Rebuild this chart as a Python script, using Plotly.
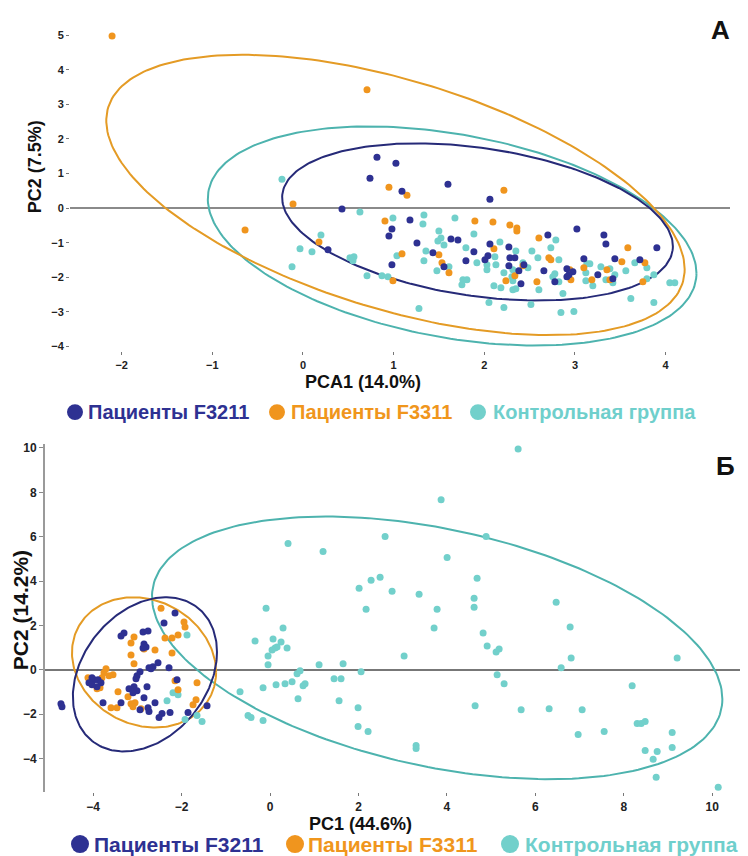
import numpy as np
import plotly.graph_objects as go

# The page places the figure 8px in from the top-left corner (default body margin),
# so the figure is 8px smaller than the window and positions are measured from that offset.
OFF = 8
W, H = 748 - OFF, 856 - OFF

# ---------------- Panel A data ----------------
a_f3211_x = [0.816,1.025,0.739,1.599,1.092,0.430,1.180,0.981,0.948,1.257,1.632,1.709,1.885,1.433,0.276,1.797,1.555,0.981,
             2.062,3.021,3.319,3.341,3.903,2.062,2.271,2.701,2.007,2.040,2.282,2.337,2.271,2.381,2.437,2.657,2.911,2.977,
             2.933,2.911,2.778,2.404,3.098,3.252,3.418,3.440,3.716]
a_f3211_y = [1.466,1.293,0.862,0.690,0.489,-0.029,-0.345,-0.603,-0.805,-1.006,-0.891,-0.920,-1.264,-1.293,-1.207,-1.523,-1.695,-1.638,
             0.259,-0.603,-0.776,-1.034,-1.149,-1.034,-1.121,-0.776,-1.494,-1.379,-1.437,-1.437,-1.667,-1.810,-1.638,-1.810,-1.753,-1.839,
             -1.925,-1.983,-2.126,-2.184,-1.466,-1.925,-2.040,-1.466,-1.494]

a_f3311_x = [-2.106,0.706,0.948,1.147,-0.110,-0.639,0.904,1.896,0.176,1.092,1.499,1.533,1.610,0.992,
             2.216,2.095,2.282,2.359,2.359,2.602,2.106,2.712,2.734,2.426,2.337,2.238,2.580,2.944,3.098,2.955,
             3.186,3.352,3.385,3.517,3.583,3.771,3.749]
a_f3311_y = [4.971,3.420,0.603,0.374,0.115,-0.632,-0.374,-0.374,-0.977,-1.322,-1.351,-1.580,-1.868,-2.098,
             0.517,-0.402,-0.489,-0.575,-0.661,-0.862,-1.178,-1.437,-1.494,-1.667,-1.954,-2.098,-2.126,-1.782,-1.724,-2.069,
             -2.069,-1.782,-2.069,-1.552,-1.149,-1.580,-2.126]

a_ctrl_x = [-0.232,0.628,0.992,1.334,1.323,1.676,1.499,1.522,1.488,1.555,1.885,1.797,0.198,-0.033,0.099,0.518,0.562,0.551,
            1.036,1.356,1.334,1.477,1.610,-0.121,0.706,0.871,0.937,1.764,1.808,1.753,1.279,1.918,
            2.172,2.348,2.525,2.789,2.734,2.117,2.029,2.029,2.128,2.315,2.216,2.304,2.315,2.426,2.481,2.591,2.822,
            2.778,2.756,2.822,3.131,3.164,3.286,3.385,3.120,3.120,3.197,3.341,3.418,3.440,3.561,3.660,3.793,3.870,
            3.793,2.106,2.183,2.315,2.348,2.602,2.867,2.051,2.216,2.514,2.845,2.988,3.616,3.870,4.046,4.101]
a_ctrl_y = [0.833,-0.115,-0.287,-0.201,-0.460,-0.287,-0.661,-0.862,-0.948,-1.063,-0.747,-1.149,-0.776,-1.178,-1.264,-1.437,-1.408,-1.523,
            -1.379,-1.236,-1.523,-1.810,-1.695,-1.695,-1.954,-1.954,-1.983,-2.069,-2.069,-2.213,-2.902,-1.580,
            -0.977,-1.236,-1.236,-0.920,-1.149,-1.408,-1.638,-1.782,-1.638,-1.782,-1.868,-1.983,-2.098,-1.580,-1.724,-1.437,-1.494,
            -1.897,-1.983,-2.126,-1.609,-1.609,-1.695,-1.753,-1.868,-2.098,-2.241,-2.069,-2.155,-1.925,-1.810,-1.580,-1.724,-1.925,
            -2.040,-2.241,-2.299,-2.356,-2.328,-2.356,-2.471,-2.730,-2.874,-2.787,-3.017,-2.989,-2.615,-2.730,-2.155,-2.155]

# ellipse parameters: centre x, centre y, half-width, half-height, correlation
a_ell_f3211 = [1.925, -0.40, 2.155, 2.27, -0.31]
a_ell_f3311 = [1.02, 0.38, 3.19, 4.05, -0.53]
a_ell_ctrl = [1.645, -0.805, 2.695, 3.165, -0.34]

a_xticks = [-2, -1, 0, 1, 2, 3, 4]
a_yticks = [-4, -3, -2, -1, 0, 1, 2, 3, 4, 5]

# ---------------- Panel Б data ----------------
b_f3211_x = [-2.149,-2.398,-3.303,-3.371,-2.873,-2.760,-2.851,-2.805,-2.873,-2.534,-2.647,-2.692,-2.738,-2.285,-2.941,-3.009,
             -3.032,-4.027,-3.982,-4.095,-3.891,-3.824,-3.914,-4.027,-2.104,-2.783,-3.190,-3.077,-3.009,-3.100,-2.851,-3.778,
             -3.371,-2.602,-4.729,-4.706,-2.760,-2.738,-2.941,-2.262,-2.443,-2.511,-1.855,-1.425]
b_f3211_y = [2.556,2.108,1.659,1.525,1.704,1.749,1.166,1.031,0.987,0.314,0.135,0.045,0.090,0.090,-0.090,-0.269,
             -0.404,-0.359,-0.448,-0.583,-0.448,-0.583,-0.762,-0.673,-0.448,-0.762,-0.852,-0.762,-0.942,-1.031,-1.256,-1.480,
             -1.480,-1.480,-1.525,-1.659,-1.704,-1.883,-1.794,-1.928,-1.973,-2.152,-1.928,-1.614]

b_f3311_x = [-2.466,-1.946,-1.923,-2.081,-2.217,-2.376,-3.077,-3.145,-2.851,-2.602,-3.145,-3.077,-2.217,-3.710,-3.552,-3.643,
             -2.149,-1.652,-2.081,-3.846,-3.914,-3.439,-3.213,-3.145,-3.054,-3.100,-3.597,-3.462,-2.919,-1.674,-1.742,-3.756,
             -4.118,-3.801]
b_f3311_y = [2.780,2.152,1.928,1.570,1.435,1.435,1.480,1.211,0.942,0.897,0.673,0.269,0.762,0.045,-0.224,-0.269,
             -0.493,-0.583,-0.897,-0.807,-0.852,-0.987,-1.211,-1.525,-1.480,-1.659,-1.704,-1.704,-1.749,-1.345,-1.570,-0.135,
             -0.359,-0.359]

b_ctrl_x = [-1.878,-2.195,-2.081,-2.330,-1.923,-1.652,-1.538,
            -0.090,0.294,-0.339,0.068,0.249,0.113,0.158,0.045,0.385,-0.045,-0.045,0.679,0.611,1.109,1.652,2.059,1.448,1.606,
            -0.158,0.136,0.339,0.498,0.747,0.792,-0.679,0.633,1.561,1.991,-0.498,-0.430,-0.158,1.991,2.217,3.303,3.303,
            2.014,2.285,2.489,2.760,2.172,3.371,3.778,3.710,3.032,4.683,4.615,4.615,4.638,5.611,3.869,2.602,4.887,4.005,
            6.471,6.787,4.819,0.407,1.199,4.910,5.113,5.181,6.810,6.584,9.208,5.136,5.294,8.190,5.679,6.312,7.059,8.303,
            8.394,8.484,7.557,6.968,9.095,8.484,8.756,9.095,8.665,8.733,10.136]
b_ctrl_y = [1.570,-1.031,-1.121,-1.390,-2.242,-2.063,-2.332,
            2.780,1.883,1.300,1.390,1.256,0.987,1.031,0.897,0.987,0.628,0.224,-0.045,-0.179,0.224,0.269,-0.090,-0.404,-0.404,
            -0.807,-0.673,-0.628,-0.538,-0.717,-0.628,-0.987,-1.300,-1.390,-1.704,-2.063,-2.152,-2.287,-2.556,-2.780,-3.408,-3.543,
            3.677,4.036,4.170,3.543,2.735,3.408,2.735,1.883,0.628,4.126,3.229,2.825,-1.614,9.955,7.668,6.009,6.009,5.067,
            3.049,1.928,1.659,5.695,5.336,1.076,0.807,0.942,0.538,0.090,0.538,-0.224,-0.628,-0.717,-1.794,-1.749,-1.794,-2.422,
            -2.422,-2.332,-2.780,-2.915,-2.825,-3.632,-3.677,-3.498,-4.036,-4.843,-5.291]

b_ell_f3211 = [-2.83, -0.205, 1.63, 3.475, 0.29]
b_ell_f3311 = [-2.85, 0.335, 1.63, 2.935, -0.15]
b_ell_ctrl = [3.78, 0.99, 6.45, 5.92, -0.39]

b_xticks = [-4, -2, 0, 2, 4, 6, 8, 10]
b_yticks = [-4, -2, 0, 2, 4, 6, 8, 10]

groups = ["Пациенты F3211", "Пациенты F3311", "Контрольная группа"]

# ---------------- styling ----------------
C_BLUE = "#2e3192"
C_ORANGE = "#f0951e"
C_CYAN = "#72d0cb"
L_BLUE = "#262a78"
L_ORANGE = "#e49b25"
L_CYAN = "#4db3ae"
FONT = "Liberation Sans"


def ellipse(p, n=240):
    cx, cy, sx, sy, r = p
    t = np.linspace(0, 2 * np.pi, n)
    x = cx + sx * np.cos(t)
    y = cy + sy * (r * np.cos(t) + np.sqrt(1 - r * r) * np.sin(t))
    return x, y


fig = go.Figure()

panels = [
    ("x", "y", a_ell_f3211, a_ell_f3311, a_ell_ctrl,
     (a_f3211_x, a_f3211_y), (a_f3311_x, a_f3311_y), (a_ctrl_x, a_ctrl_y)),
    ("x2", "y2", b_ell_f3211, b_ell_f3311, b_ell_ctrl,
     (b_f3211_x, b_f3211_y), (b_f3311_x, b_f3311_y), (b_ctrl_x, b_ctrl_y)),
]

for xa, ya, e1, e2, e3, p1, p2, p3 in panels:
    for e, col in ((e3, L_CYAN), (e2, L_ORANGE), (e1, L_BLUE)):
        ex, ey = ellipse(e)
        fig.add_trace(go.Scatter(x=ex, y=ey, mode="lines", line=dict(color=col, width=2),
                                 xaxis=xa, yaxis=ya, showlegend=False, hoverinfo="skip"))
    for (px, py), col, name in ((p3, C_CYAN, groups[2]), (p2, C_ORANGE, groups[1]), (p1, C_BLUE, groups[0])):
        fig.add_trace(go.Scatter(x=px, y=py, mode="markers", name=name,
                                 marker=dict(color=col, size=7, line=dict(width=0)),
                                 xaxis=xa, yaxis=ya, showlegend=False))


def pxX(v):
    return (v - OFF) / W


def pxY(v):
    return 1 - (v - OFF) / H


tickfont_a = dict(family=FONT, size=11, color="#222", weight="bold")
tickfont_b = dict(family=FONT, size=12, color="#222", weight="bold")

fig.update_layout(
    width=W, height=H, margin=dict(l=0, r=0, t=0, b=0),
    paper_bgcolor="white", plot_bgcolor="white", showlegend=False,
    xaxis=dict(domain=[pxX(70), pxX(730)], range=[-2.57, 4.71], tickvals=a_xticks,
               showgrid=False, zeroline=False, showline=False, ticks="outside", ticklen=3,
               tickcolor="#777", tickfont=tickfont_a, anchor="y"),
    yaxis=dict(domain=[pxY(350), pxY(20)], range=[-4.14, 5.35], tickvals=a_yticks,
               showgrid=False, zeroline=True, zerolinecolor="#8a8a8a", zerolinewidth=1.5,
               showline=False, ticks="outside", ticklen=3, tickcolor="#777",
               tickfont=tickfont_a, anchor="x"),
    xaxis2=dict(domain=[pxX(45), 1.0], range=[-5.09, 10.81], tickvals=b_xticks,
                showgrid=False, zeroline=False, showline=False, ticks="outside", ticklen=3,
                tickcolor="#777", tickfont=tickfont_b, anchor="y2"),
    yaxis2=dict(domain=[pxY(793), pxY(443)], range=[-5.52, 10.18], tickvals=b_yticks,
                showgrid=False, zeroline=True, zerolinecolor="#777", zerolinewidth=1.5,
                showline=True, linecolor="#9a9a9a", linewidth=2, ticks="outside", ticklen=4,
                tickcolor="#888", tickfont=tickfont_b, anchor="x2"),
)

ann = []


def text(x, y, s, size, color="#111", xanchor="center", angle=0):
    ann.append(dict(x=pxX(x), y=pxY(y), xref="paper", yref="paper", text=s, showarrow=False,
                    xanchor=xanchor, yanchor="middle", textangle=angle,
                    font=dict(family=FONT, size=size, color=color, weight="bold")))


text(720, 27, "А", 26)
text(725, 465, "Б", 26)
text(363, 381, "PCA1 (14.0%)", 18)
text(35, 165, "PC2 (7.5%)", 18, angle=-90)
text(360, 825, "PC1 (44.6%)", 18)
text(20, 610, "PC2 (14.2%)", 21, angle=-90)

shapes = []
leg_colors = [C_BLUE, C_ORANGE, C_CYAN]
txt_colors = [C_BLUE, "#f0961c", "#6fcfcc"]
top_circ = [75, 277, 478]
top_text = [86, 289, 491]
bot_circ = [80, 295, 510]
bot_text = [92, 306, 523]
for i in range(3):
    for cxp, tx, cy, r, fs in ((top_circ[i], top_text[i], 411, 8, 20), (bot_circ[i], bot_text[i], 845, 9, 21)):
        shapes.append(dict(type="circle", xref="paper", yref="paper",
                           x0=pxX(cxp - r), x1=pxX(cxp + r), y0=pxY(cy + r), y1=pxY(cy - r),
                           fillcolor=leg_colors[i], line=dict(width=0)))
        text(tx, cy, groups[i], fs, color=txt_colors[i], xanchor="left")

fig.update_layout(annotations=ann, shapes=shapes)

fig.write_html("out.html")
